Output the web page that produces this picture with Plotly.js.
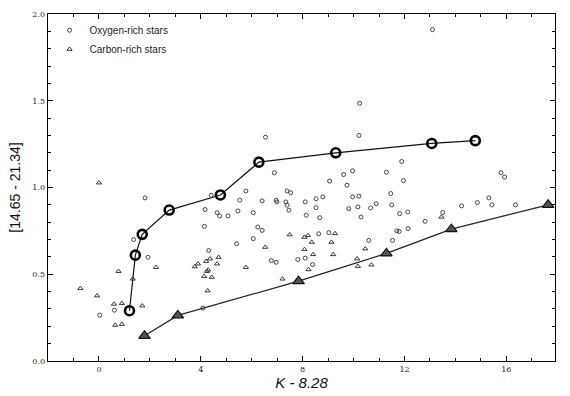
<!DOCTYPE html>
<html><head><meta charset="utf-8">
<script src="https://cdn.plot.ly/plotly-3.0.1.min.js"></script>
<style>html,body{margin:0;padding:0;background:#fff}#chart{width:570px;height:396px}</style>
</head><body><div id="chart"></div>
<script>
// Oxygen-rich stars (small open circles)
const oxyX = [13.1,10.24,10.21,6.54,11.89,6.89,9.61,9.96,11.29,11.96,9.06,15.79,15.93,9.74,7.39,7.53,5.77,4.41,11.46,1.81,9.96,10.21,8.53,8.79,15.31,5.53,6.96,4.17,4.64,4.74,5.07,5.46,6.06,6.41,6.99,7.34,7.39,7.46,8.1,8.14,8.53,8.67,9.81,10.17,10.29,10.67,10.89,11.5,11.81,12.13,12.81,13.5,14.24,14.86,15.43,16.36,4.14,6.24,6.41,6.06,5.41,11.79,12.14,11.53,10.6,9.03,8.63,6.77,6.96,7.81,8.1,8.39,1.93,1.36,4.31,0.61,0.03,4.08,11.7];
const oxyY = [1.91,1.485,1.30,1.29,1.15,1.085,1.075,1.096,1.088,1.04,1.037,1.085,1.06,1.013,0.98,0.97,0.98,0.955,0.965,0.94,0.946,0.95,0.935,0.946,0.94,0.927,0.927,0.873,0.855,0.836,0.836,0.865,0.855,0.923,0.917,0.917,0.898,0.869,0.917,0.84,0.884,0.826,0.878,0.888,0.83,0.882,0.907,0.90,0.849,0.859,0.805,0.856,0.894,0.913,0.90,0.90,0.776,0.772,0.753,0.705,0.676,0.747,0.763,0.695,0.695,0.74,0.733,0.579,0.569,0.585,0.593,0.556,0.598,0.70,0.637,0.293,0.264,0.305,0.75];
// Carbon-rich stars (small open triangles)
const carX = [0,-0.73,-0.07,0.59,0.9,0.64,0.9,0.77,1.7,2.24,3.76,3.89,4.21,4.36,4.7,4.64,4.29,4.24,4.13,4.43,4.27,5.77,6.53,7.21,7.49,8.07,8.21,8.36,8.41,8.07,9.13,9.2,8.23,10.14,10.17,10.46,10.7,13.45,9.27,1.33];
const carY = [1.027,0.419,0.376,0.328,0.332,0.207,0.212,0.517,0.318,0.54,0.544,0.56,0.575,0.589,0.598,0.56,0.525,0.517,0.488,0.483,0.405,0.54,0.656,0.473,0.728,0.714,0.724,0.685,0.614,0.643,0.685,0.614,0.527,0.589,0.546,0.647,0.554,0.83,0.735,0.473];
// Oxygen-rich model track (large circles)
const oxyTrackX = [1.2,1.43,1.7,2.76,4.77,6.28,9.3,13.07,14.78];
const oxyTrackY = [0.29,0.61,0.73,0.87,0.957,1.146,1.20,1.254,1.27];
// Carbon-rich model track (large triangles)
const carTrackX = [1.79,3.1,7.84,11.29,13.84,17.64];
const carTrackY = [0.145,0.263,0.46,0.62,0.76,0.90];

const data = [
  {x: oxyTrackX, y: oxyTrackY, type:'scatter', mode:'lines+markers', showlegend:false,
   line:{color:'#111', width:1.2},
   marker:{symbol:'circle-open', size:9, color:'#000', line:{width:2.6, color:'#000'}}},
  {x: carTrackX, y: carTrackY, type:'scatter', mode:'lines+markers', showlegend:false,
   line:{color:'#222', width:1.2},
   marker:{symbol:'triangle-up', size:10, color:'#555', line:{width:1.2, color:'#111'}}},
  {x: oxyX, y: oxyY, type:'scatter', mode:'markers', name:'Oxygen-rich stars',
   marker:{symbol:'circle-open', size:4, color:'#333', line:{width:0.9, color:'#333'}}},
  {x: carX, y: carY, type:'scatter', mode:'markers', name:'Carbon-rich stars',
   marker:{symbol:'triangle-up-open', size:4.5, color:'#222', line:{width:0.9, color:'#222'}}}
];

const layout = {
  width:570, height:396,
  margin:{l:48, r:15, t:14, b:35},
  paper_bgcolor:'#fff', plot_bgcolor:'#fff',
  font:{family:'Liberation Sans, Arial, sans-serif', color:'#111'},
  showlegend:true,
  legend:{x:0.003, y:0.995, xanchor:'left', yanchor:'top', bgcolor:'rgba(0,0,0,0)',
    font:{size:10, family:'Liberation Sans, Arial, sans-serif', color:'#222'},
    tracegroupgap:0, itemwidth:30},
  xaxis:{range:[-2,17.91], tickvals:[0,4,8,12,16], ticktext:['0','4','8','12','16'],
    ticks:'inside', ticklen:5, tickwidth:1, tickcolor:'#000', mirror:'ticks',
    showline:true, linecolor:'#000', linewidth:1.3, showgrid:false, zeroline:false,
    tickfont:{size:8, family:'DejaVu Serif, serif', color:'#222'},
    minor:{dtick:1, tick0:0, ticks:'inside', ticklen:3, tickcolor:'#000', showgrid:false},
    title:{text:'<i>K - 8.28</i>', font:{size:15, family:'Liberation Sans, Arial, sans-serif', color:'#111'}, standoff:4}},
  yaxis:{range:[0,2.0], tickvals:[0,0.5,1.0,1.5,2.0], ticktext:['0.0','0.5','1.0','1.5','2.0'],
    ticks:'inside', ticklen:5, tickwidth:1, tickcolor:'#000', mirror:'ticks',
    showline:true, linecolor:'#000', linewidth:1.3, showgrid:false, zeroline:false,
    tickfont:{size:8, family:'DejaVu Serif, serif', color:'#222'},
    minor:{dtick:0.1, tick0:0, ticks:'inside', ticklen:3, tickcolor:'#000', showgrid:false},
    title:{text:'[14.65 - 21.34]', font:{size:14, family:'Liberation Sans, Arial, sans-serif', color:'#111'}, standoff:8}}
};

Plotly.newPlot('chart', data, layout, {displayModeBar:false, staticPlot:true});
</script>
</body></html>
